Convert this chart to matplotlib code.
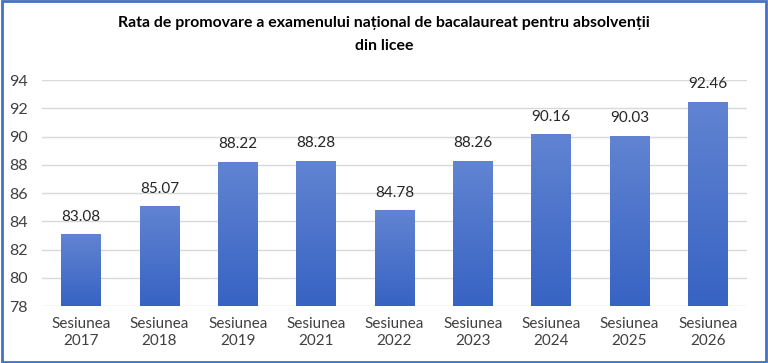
import matplotlib
matplotlib.use("Agg")
import matplotlib.pyplot as plt
import numpy as np
from matplotlib.patches import Rectangle

categories = ["Sesiunea\n2017", "Sesiunea\n2018", "Sesiunea\n2019", "Sesiunea\n2021",
              "Sesiunea\n2022", "Sesiunea\n2023", "Sesiunea\n2024", "Sesiunea\n2025",
              "Sesiunea\n2026"]
values = [83.08, 85.07, 88.22, 88.28, 84.78, 88.26, 90.16, 90.03, 92.46]
yticks = [78, 80, 82, 84, 86, 88, 90, 92, 94]
title = "Rata de promovare a examenului național de bacalaureat pentru absolvenții\ndin licee"

plt.rcParams['font.family'] = ['Lato', 'DejaVu Sans']

fig = plt.figure(figsize=(7.68, 3.63), dpi=100)
ax = fig.add_axes([0.0547, 0.157, 0.918, 0.6226])

x = np.arange(len(values))
bw = 0.51
bars = ax.bar(x, values, width=bw, color="none", zorder=3, bottom=0)

cmap = matplotlib.colors.LinearSegmentedColormap.from_list("g", ["#3763C3", "#6184D2"])
grad = np.linspace(0, 1, 256).reshape(-1, 1)
for b in bars:
    bx, by = b.get_x(), 78
    w, h = b.get_width(), b.get_height() - 78
    im = ax.imshow(grad, extent=[bx, bx + w, by, by + h], origin="lower",
                   cmap=cmap, aspect="auto", zorder=3)
    clip = Rectangle((bx, by), w, h, transform=ax.transData)
    im.set_clip_path(clip)

for xi, v in zip(x, values):
    ax.text(xi, v + 0.75, f"{v:.2f}", ha="center", va="bottom", fontsize=11, color="#262626")

ax.set_xlim(-0.5, len(values) - 0.5)
ax.set_ylim(78, 94)
ax.set_yticks(yticks)
ax.set_yticklabels([str(t) for t in yticks], fontsize=11.5, color="#404040")
ax.set_xticks(x)
ax.set_xticklabels(categories, fontsize=11, color="#404040", linespacing=1.3)
ax.tick_params(length=0, pad=8)
ax.tick_params(axis="y", pad=10)
for s in ax.spines.values():
    s.set_visible(False)
ax.grid(axis="y", color="#D9D9D9", linewidth=1, zorder=0)
ax.set_axisbelow(True)

fig.text(0.5, 0.955, title, ha="center", va="top", fontsize=11.4, fontweight="bold",
         color="#000000", linespacing=1.75)

border = Rectangle((0.002, 0.003), 0.996, 0.994, transform=fig.transFigure,
                   fill=False, edgecolor="#4472C4", linewidth=2)
fig.patches.append(border)

fig.savefig("out.png", dpi=100)
